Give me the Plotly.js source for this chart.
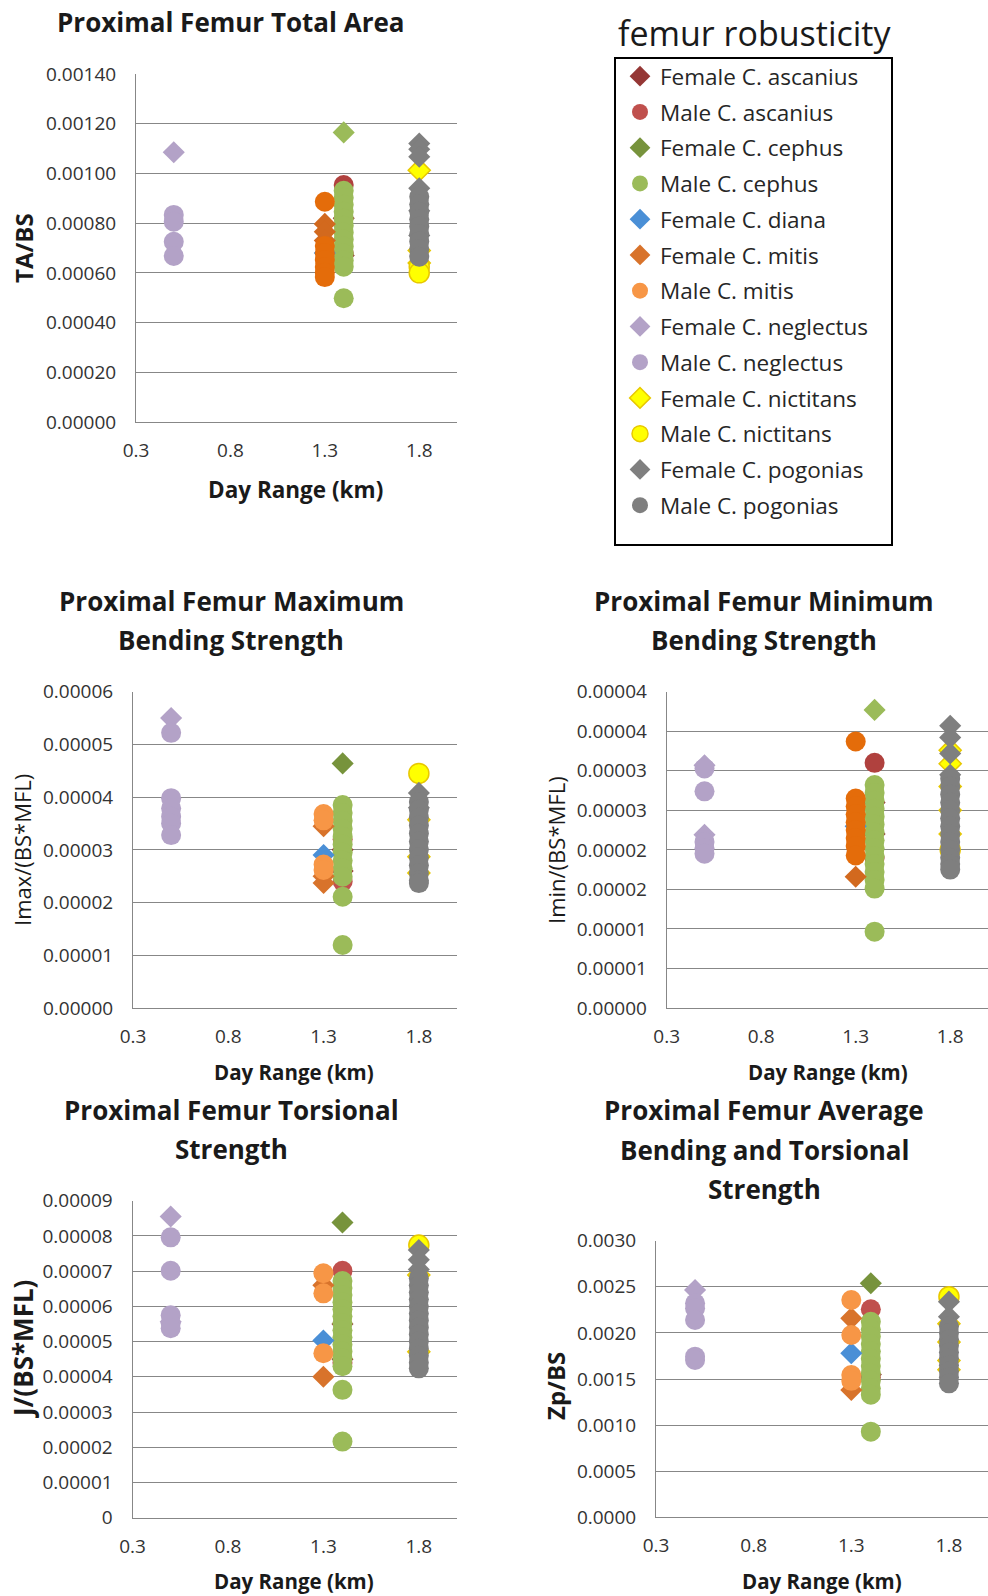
<!DOCTYPE html>
<html><head><meta charset="utf-8">
<script src="https://cdn.plot.ly/plotly-3.0.1.min.js"></script>
<style>html,body{margin:0;padding:0;background:#fff}#chart{width:988px;height:1596px}</style>
</head><body><div id="chart"></div>
<script>
// ---------- DATA ----------
const species = ['Female C. ascanius','Male C. ascanius','Female C. cephus','Male C. cephus','Female C. diana',
  'Female C. mitis','Male C. mitis','Female C. neglectus','Male C. neglectus','Female C. nictitans',
  'Male C. nictitans','Female C. pogonias','Male C. pogonias'];
const symbols = ['diamond','circle','diamond','circle','diamond','diamond','circle','diamond','circle','diamond','circle','diamond','circle'];
const dayRangeKm = [1.4,1.4,1.4,1.4,1.3,1.3,1.3,0.5,0.5,1.8,1.8,1.8,1.8];

// TA/BS
const taBS = [
  [0.00067, 0.00082],
  [0.000953, 0.00068],
  [0.001165],
  [0.00093, 0.000902, 0.000874, 0.000846, 0.000818, 0.00079, 0.000762, 0.000734, 0.000706, 0.000678, 0.00065, 0.000625, 0.000498],
  [0.00068],
  [0.000797, 0.000765, 0.00073],
  [0.000886, 0.000708, 0.00068, 0.000652, 0.000624, 0.0006, 0.000583],
  [0.001085],
  [0.000833, 0.000806, 0.000725, 0.000668],
  [0.001013, 0.00069, 0.00064],
  [0.000625, 0.0006],
  [0.00112, 0.001097, 0.001067, 0.00094, 0.00085, 0.00075],
  [0.000906, 0.000876, 0.000846, 0.000816, 0.000786, 0.000756, 0.000726, 0.000696, 0.000665]
];
// Imax/(BS*MFL)
const imaxBSMFL = [
  [2.6e-5, 3.0e-5],
  [2.40e-5, 3.2e-5],
  [4.64e-5],
  [3.85e-5, 3.70e-5, 3.55e-5, 3.40e-5, 3.25e-5, 3.10e-5, 2.95e-5, 2.80e-5, 2.65e-5, 2.49e-5, 2.11e-5, 1.195e-5],
  [2.9e-5],
  [3.45e-5, 2.50e-5, 2.37e-5],
  [3.68e-5, 3.56e-5, 2.72e-5, 2.62e-5],
  [5.50e-5],
  [5.22e-5, 3.98e-5, 3.79e-5, 3.63e-5, 3.50e-5, 3.28e-5],
  [3.57e-5, 2.87e-5, 2.56e-5],
  [4.45e-5],
  [4.08e-5, 3.80e-5],
  [3.91e-5, 3.76e-5, 3.61e-5, 3.46e-5, 3.31e-5, 3.16e-5, 3.01e-5, 2.86e-5, 2.71e-5, 2.56e-5, 2.42e-5, 2.37e-5]
];
// Imin/(BS*MFL)
const iminBSMFL = [
  [2.2e-5, 2.6e-5],
  [3.10e-5, 1.9e-5],
  [3.77e-5],
  [2.82e-5, 2.72e-5, 2.62e-5, 2.52e-5, 2.42e-5, 2.32e-5, 2.22e-5, 2.12e-5, 2.02e-5, 1.92e-5, 1.82e-5, 1.72e-5, 1.62e-5, 1.51e-5, 0.965e-5],
  [2.3e-5],
  [1.66e-5],
  [3.37e-5, 2.65e-5, 2.55e-5, 2.45e-5, 2.35e-5, 2.25e-5, 2.15e-5, 2.05e-5, 1.93e-5],
  [3.07e-5, 2.19e-5],
  [3.03e-5, 2.74e-5, 2.10e-5, 2.02e-5, 1.95e-5],
  [3.26e-5, 3.09e-5, 2.80e-5, 2.5e-5, 2.2e-5],
  [2.0e-5],
  [3.57e-5, 3.42e-5, 3.22e-5, 2.95e-5],
  [2.90e-5, 2.80e-5, 2.70e-5, 2.60e-5, 2.50e-5, 2.40e-5, 2.30e-5, 2.20e-5, 2.10e-5, 2.00e-5, 1.90e-5, 1.82e-5, 1.75e-5]
];
// J/(BS*MFL)
const jBSMFL = [
  [4.5e-5, 5.5e-5],
  [7.01e-5, 4.4e-5],
  [8.38e-5],
  [6.72e-5, 6.52e-5, 6.32e-5, 6.12e-5, 5.92e-5, 5.72e-5, 5.52e-5, 5.32e-5, 5.12e-5, 4.92e-5, 4.72e-5, 4.52e-5, 4.30e-5, 3.63e-5, 2.16e-5],
  [5.03e-5],
  [6.6e-5, 4.0e-5],
  [6.94e-5, 6.37e-5, 4.67e-5],
  [8.55e-5, 5.56e-5],
  [7.96e-5, 7.01e-5, 5.75e-5, 5.52e-5, 5.38e-5],
  [6.89e-5, 4.71e-5],
  [7.74e-5],
  [7.6e-5, 7.32e-5, 7.05e-5],
  [6.8e-5, 6.6e-5, 6.4e-5, 6.2e-5, 6.0e-5, 5.8e-5, 5.6e-5, 5.4e-5, 5.2e-5, 5.0e-5, 4.8e-5, 4.6e-5, 4.4e-5, 4.24e-5]
];
// Zp/BS
const zpBS = [
  [0.00155],
  [0.002256, 0.00152],
  [0.002538],
  [0.00212, 0.00204, 0.00196, 0.00188, 0.0018, 0.00172, 0.00164, 0.00156, 0.00148, 0.0014, 0.00133, 0.000929],
  [0.001779],
  [0.002158, 0.00138],
  [0.002357, 0.001977, 0.001543, 0.00148],
  [0.002465],
  [0.002321, 0.002267, 0.00214, 0.001742, 0.001706],
  [0.0021, 0.0019, 0.0017, 0.0016],
  [0.002393],
  [0.002339, 0.002176],
  [0.00207, 0.002, 0.00193, 0.00186, 0.00179, 0.00172, 0.00165, 0.00158, 0.00152, 0.001453]
];

// tick labels
const xTickVals = [0.3, 0.8, 1.3, 1.8];
const xTickText = ['0.3', '0.8', '1.3', '1.8'];
const taTickVals = [0, 0.0002, 0.0004, 0.0006, 0.0008, 0.001, 0.0012, 0.0014];
const taTickText = ['0.00000','0.00020','0.00040','0.00060','0.00080','0.00100','0.00120','0.00140'];
const imaxTickVals = [0, 1e-5, 2e-5, 3e-5, 4e-5, 5e-5, 6e-5];
const imaxTickText = ['0.00000','0.00001','0.00002','0.00003','0.00004','0.00005','0.00006'];
const iminTickVals = [0, 0.5e-5, 1e-5, 1.5e-5, 2e-5, 2.5e-5, 3e-5, 3.5e-5, 4e-5];
const iminTickText = ['0.00000','0.00001','0.00001','0.00002','0.00002','0.00003','0.00003','0.00004','0.00004'];
const jTickVals = [0, 1e-5, 2e-5, 3e-5, 4e-5, 5e-5, 6e-5, 7e-5, 8e-5, 9e-5];
const jTickText = ['0','0.00001','0.00002','0.00003','0.00004','0.00005','0.00006','0.00007','0.00008','0.00009'];
const zpTickVals = [0, 0.0005, 0.001, 0.0015, 0.002, 0.0025, 0.003];
const zpTickText = ['0.0000','0.0005','0.0010','0.0015','0.0020','0.0025','0.0030'];

// ---------- STYLE ----------
const colorsMain = ['#953735','#C0504D','#77933C','#9BBB59','#4A8FD6','#D8732B','#F79646','#B3A2C7','#B3A2C7','#FFFF00','#FFFF00','#7F7F7F','#7F7F7F'];
const colorsAlt  = ['#953735','#B0413E','#9BBB59','#9BBB59','#4A8FD6','#D2691E','#E46C0A','#B3A2C7','#B3A2C7','#FFFF00','#FFFF00','#7F7F7F','#7F7F7F'];

const W = 988, H = 1596;
const px = v => v / W, py = v => 1 - v / H;

const panels = [
  {vals: taBS,      colors: colorsAlt,  xa: 'x',  ya: 'y',  X: [136, 457],   Y: [422, 74],     yr: [0, 0.0014], tv: taTickVals,   tt: taTickText},
  {vals: imaxBSMFL, colors: colorsMain, xa: 'x2', ya: 'y2', X: [133, 457],   Y: [1008, 691.7], yr: [0, 6e-5],   tv: imaxTickVals, tt: imaxTickText, legend: true},
  {vals: iminBSMFL, colors: colorsAlt,  xa: 'x3', ya: 'y3', X: [666.7, 988], Y: [1008, 691.7], yr: [0, 4e-5],   tv: iminTickVals, tt: iminTickText},
  {vals: jBSMFL,    colors: colorsMain, xa: 'x4', ya: 'y4', X: [132.5, 457], Y: [1517.7, 1200.7], yr: [0, 9e-5], tv: jTickVals,  tt: jTickText},
  {vals: zpBS,      colors: colorsMain, xa: 'x5', ya: 'y5', X: [656, 988],   Y: [1517.3, 1240.7], yr: [0, 0.003], tv: zpTickVals, tt: zpTickText}
];

const traces = [];
const layout = {
  width: W, height: H,
  margin: {l: 0, r: 0, t: 0, b: 0},
  paper_bgcolor: '#ffffff', plot_bgcolor: '#ffffff',
  hovermode: false,
  font: {family: 'Open Sans, sans-serif', color: '#262626'},
  showlegend: true,
  legend: {
    x: px(620), xanchor: 'left', y: py(55), yanchor: 'top',
    bgcolor: 'rgba(0,0,0,0)', borderwidth: 0,
    font: {family: 'Open Sans, sans-serif', size: 22.5, color: '#262626'},
    tracegroupgap: 3.5, itemsizing: 'trace'
  },
  shapes: [{type: 'rect', xref: 'paper', yref: 'paper', x0: px(615), x1: px(892), y0: py(545), y1: py(58),
            line: {color: '#000000', width: 2}, fillcolor: 'rgba(0,0,0,0)'}],
  annotations: []
};

const axisLine = '#878787';
panels.forEach((p, pi) => {
  const xn = pi === 0 ? 'xaxis' : 'xaxis' + (pi + 1);
  const yn = pi === 0 ? 'yaxis' : 'yaxis' + (pi + 1);
  layout[xn] = {
    domain: [px(p.X[0]), Math.min(1, px(p.X[1]))], range: [0.3, 2.0], anchor: p.ya,
    tickmode: 'array', tickvals: xTickVals, ticktext: xTickText,
    showgrid: false, zeroline: false, showline: true, linecolor: axisLine, linewidth: 1,
    ticks: '', ticklabelstandoff: 11,
    tickfont: {family: 'Open Sans, sans-serif', size: 19, color: '#333333'}
  };
  layout[yn] = {
    domain: [py(p.Y[0]), py(p.Y[1])], range: p.yr, anchor: p.xa,
    tickmode: 'array', tickvals: p.tv, ticktext: p.tt,
    showgrid: true, gridcolor: axisLine, gridwidth: 1, zeroline: false,
    showline: true, linecolor: axisLine, linewidth: 1,
    ticks: '', ticklabelstandoff: 15,
    tickfont: {family: 'Open Sans, sans-serif', size: 19, color: '#333333'}
  };
  species.forEach((name, si) => {
    const ys = p.vals[si];
    const isCircle = symbols[si] === 'circle';
    const yellow = si === 9 || si === 10;
    traces.push({
      type: 'scatter', mode: 'markers', name: name,
      legendgroup: name, showlegend: !!p.legend,
      xaxis: p.xa, yaxis: p.ya,
      x: ys.map(() => dayRangeKm[si]), y: ys,
      marker: {symbol: symbols[si], size: isCircle ? 20 : 17, color: p.colors[si],
               line: {width: yellow ? 1.5 : 0, color: '#E8C800'}},
      hoverinfo: 'skip'
    });
  });
});

function ann(text, x, y, size, bold, angle) {
  layout.annotations.push({
    text: bold ? '<b>' + text + '</b>' : text,
    xref: 'paper', yref: 'paper', x: px(x), y: py(y), xanchor: 'center', yanchor: 'middle',
    showarrow: false, textangle: angle || 0,
    font: {family: 'Open Sans, sans-serif', size: size, color: '#1a1a1a'}
  });
}
// chart titles
ann('Proximal Femur Total Area', 231, 21.5, 26, true);
ann('femur robusticity', 754, 33, 34, false);
ann('Proximal Femur Maximum', 231, 601, 26, true);
ann('Bending Strength', 231, 640, 26, true);
ann('Proximal Femur Minimum', 764, 601, 26, true);
ann('Bending Strength', 764, 640, 26, true);
ann('Proximal Femur Torsional', 231, 1110, 26, true);
ann('Strength', 231, 1149, 26, true);
ann('Proximal Femur Average', 764, 1110, 26, true);
ann('Bending and Torsional', 764, 1150, 26, true);
ann('Strength', 764, 1189, 26, true);
// axis titles
ann('Day Range (km)', 295, 489.5, 22.5, true);
ann('Day Range (km)', 294, 1071.5, 20.5, true);
ann('Day Range (km)', 828, 1071.5, 20.5, true);
ann('Day Range (km)', 294, 1581, 20.5, true);
ann('Day Range (km)', 822, 1581, 20.5, true);
ann('TA/BS', 23, 248, 24, true, -90);
ann('Imax/(BS*MFL)', 22, 850, 22, false, -90);
ann('Imin/(BS*MFL)', 556, 850, 22, false, -90);
ann('J/(BS*MFL)', 23, 1349, 26, true, -90);
ann('Zp/BS', 555, 1386, 24, true, -90);

Plotly.newPlot('chart', traces, layout, {staticPlot: true, displayModeBar: false});
</script>
</body></html>
